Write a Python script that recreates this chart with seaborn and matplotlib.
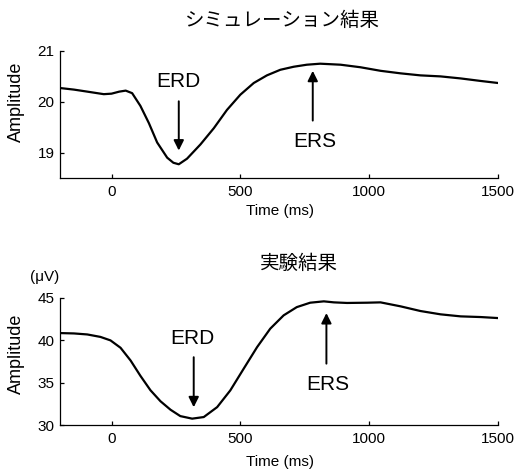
import matplotlib
matplotlib.use("Agg")
import matplotlib.pyplot as plt
import seaborn as sns
import pandas as pd

# ---- data ----
sim_time = [-198, -146, -94, -30, 0, 30, 55, 80, 112, 145, 177, 216, 240, 261, 293,
            345, 397, 448, 500, 552, 603, 655, 707, 758, 810, 889, 966, 1044, 1122,
            1199, 1277, 1355, 1433, 1500]
sim_amp = [20.27, 20.24, 20.20, 20.15, 20.16, 20.20, 20.22, 20.17, 19.92, 19.58, 19.20,
           18.90, 18.80, 18.77, 18.88, 19.16, 19.48, 19.84, 20.14, 20.37, 20.52, 20.63,
           20.69, 20.73, 20.75, 20.73, 20.68, 20.61, 20.56, 20.52, 20.50, 20.46, 20.41,
           20.37]

exp_time = [-198, -146, -94, -43, -4, 35, 74, 112, 151, 190, 229, 267, 313, 358, 410,
            461, 513, 565, 616, 668, 719, 771, 824, 863, 914, 992, 1044, 1122, 1199,
            1277, 1355, 1433, 1500]
exp_amp = [40.83, 40.79, 40.67, 40.38, 39.97, 39.10, 37.60, 35.80, 34.10, 32.80, 31.80,
           31.05, 30.75, 30.94, 32.11, 34.08, 36.64, 39.18, 41.35, 42.92, 43.89, 44.41,
           44.57, 44.45, 44.38, 44.41, 44.45, 43.98, 43.43, 43.04, 42.80, 42.72, 42.60]

x_ticks = [0, 500, 1000, 1500]
sim_yticks = [19, 20, 21]
exp_yticks = [30, 35, 40, 45]

titles = ["シミュレーション結果", "実験結果"]
# (text_x, text_y, tail_y, tip_y, arrow_x)
sim_erd = (258, 20.40, 20.01, 19.04, 261)
sim_ers = (788, 19.21, 19.63, 20.61, 781)
exp_erd = (315, 40.16, 37.99, 32.09, 319)
exp_ers = (839, 34.75, 37.23, 43.19, 834)

sns.set_style("ticks")
plt.rcParams['font.family'] = ['Liberation Sans', 'Noto Sans CJK JP', 'DejaVu Sans']
for k in ('text.color', 'axes.labelcolor', 'xtick.color', 'ytick.color', 'axes.edgecolor'):
    plt.rcParams[k] = 'black'

fig = plt.figure(figsize=(5.15, 4.70), dpi=100)
ax1 = fig.add_axes([0.1165, 0.6213, 0.8505, 0.2702])
ax2 = fig.add_axes([0.1165, 0.0957, 0.8505, 0.2709])

df1 = pd.DataFrame({"t": sim_time, "a": sim_amp})
df2 = pd.DataFrame({"t": exp_time, "a": exp_amp})
sns.lineplot(data=df1, x="t", y="a", ax=ax1, color="black", lw=1.6)
sns.lineplot(data=df2, x="t", y="a", ax=ax2, color="black", lw=1.6)

arrow_kw = dict(arrowstyle='-|>,head_length=0.6,head_width=0.3', lw=1.4,
                color='black', shrinkA=0, shrinkB=0)

def annot(ax, label, spec):
    tx, ty, tail, tip, axx = spec
    ax.annotate("", xy=(axx, tip), xytext=(axx, tail), arrowprops=arrow_kw)
    ax.text(tx, ty, label, ha='center', va='center', fontsize=15)

annot(ax1, "ERD", sim_erd)
annot(ax1, "ERS", sim_ers)
annot(ax2, "ERD", exp_erd)
annot(ax2, "ERS", exp_ers)

ax1.set_ylim(18.5, 21)
ax2.set_ylim(30, 45)
ax1.set_yticks(sim_yticks)
ax2.set_yticks(exp_yticks)

for ax in (ax1, ax2):
    ax.set_xlim(-200, 1500)
    ax.set_xticks(x_ticks)
    sns.despine(ax=ax)
    for s in ('left', 'bottom'):
        ax.spines[s].set_linewidth(0.9)
        ax.spines[s].set_color('black')
    ax.tick_params(direction='in', length=3, width=0.9, labelsize=11, colors='black')
    ax.tick_params(axis='x', pad=5)
    ax.tick_params(axis='y', pad=4)
    ax.set_xlabel("Time (ms)", fontsize=11)
    ax.set_ylabel("Amplitude", fontsize=13)

ax1.xaxis.set_label_coords(0.502, -0.205)
ax2.xaxis.set_label_coords(0.502, -0.236)
ax1.yaxis.set_label_coords(-0.080, 0.598)
ax2.yaxis.set_label_coords(-0.080, 0.558)

ax1.text(0.507, 1.244, titles[0], transform=ax1.transAxes, ha='center', va='center',
         fontsize=14, family=['Noto Sans CJK JP', 'DejaVu Sans'])
ax2.text(0.546, 1.273, titles[1], transform=ax2.transAxes, ha='center', va='center',
         fontsize=14, family=['Noto Sans CJK JP', 'DejaVu Sans'])
ax2.text(-0.034, 1.165, "(μV)", transform=ax2.transAxes, ha='center', va='center',
         fontsize=11)

fig.savefig("out.png", dpi=100)
